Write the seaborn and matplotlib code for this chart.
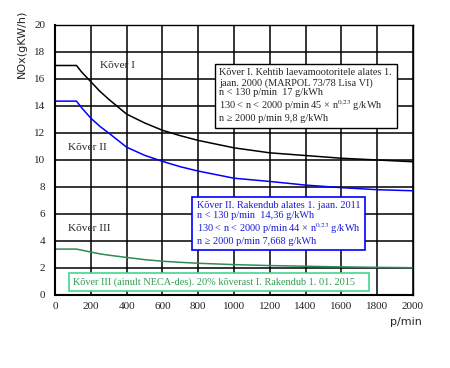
import pandas as pd
import matplotlib.pyplot as plt
import seaborn as sns

# values
rpm = [0, 120, 150, 200, 250, 300, 400, 500, 600, 700, 800, 1000, 1200, 1400, 1600, 1800, 2000]
tier1 = [17.0, 17.0, 16.5, 15.8, 15.1, 14.5, 13.4, 12.75, 12.2, 11.8, 11.45, 10.9, 10.53, 10.33, 10.13, 10.0, 9.87]
tier2 = [14.36, 14.36, 13.85, 13.1, 12.5, 12.0, 10.95, 10.35, 9.9, 9.5, 9.18, 8.65, 8.41, 8.14, 7.95, 7.8, 7.72]
tier3 = [3.4, 3.4, 3.32, 3.18, 3.05, 2.95, 2.78, 2.62, 2.5, 2.42, 2.35, 2.25, 2.18, 2.13, 2.08, 2.05, 2.02]

x_ticks = [0, 200, 400, 600, 800, 1000, 1200, 1400, 1600, 1800, 2000]
y_ticks = [0, 2, 4, 6, 8, 10, 12, 14, 16, 18, 20]

df = pd.DataFrame({'rpm': rpm, 'I': tier1, 'II': tier2, 'III': tier3})

sns.set_theme(style="white")
plt.rcParams['font.family'] = ['Liberation Serif', 'DejaVu Serif']
plt.rcParams['mathtext.fontset'] = 'stix'

fig = plt.figure(figsize=(4.5, 3.68), dpi=100)
ax = fig.add_axes([0.1222, 0.1984, 0.7956, 0.7337])

sns.lineplot(data=df, x='rpm', y='I', color='black', lw=1.1, ax=ax)
sns.lineplot(data=df, x='rpm', y='II', color='#0000ff', lw=1.1, ax=ax)
sns.lineplot(data=df, x='rpm', y='III', color='#2e8b57', lw=1.1, ax=ax)

ax.set_xlim(0, 2000)
ax.set_ylim(0, 20)
ax.set_xticks(x_ticks)
ax.set_yticks(y_ticks)
ax.grid(True, color='black', lw=1.1)
ax.set_axisbelow(True)
for s in ax.spines.values():
    s.set_color('black')
    s.set_linewidth(1.0)
ax.spines['bottom'].set_linewidth(1.5)
ax.spines['left'].set_linewidth(1.5)
ax.tick_params(axis='x', length=0, pad=5, labelsize=8, labelcolor='#222222')
ax.tick_params(axis='y', length=0, pad=7, labelsize=8, labelcolor='#222222')
ax.set_xlabel('')
ax.set_ylabel('')

ax.text(-0.092, 0.93, 'NOx(gKW/h)', transform=ax.transAxes, rotation=90,
        ha='center', va='center', fontsize=8, family='DejaVu Sans')
ax.text(0.98, -0.1, 'p/min', transform=ax.transAxes, ha='center', va='center',
        fontsize=8, family='DejaVu Sans')

ax.text(251, 17.0, 'Kõver I', fontsize=8.2, va='center')
ax.text(73, 10.96, 'Kõver II', fontsize=8.2, va='center')
ax.text(73, 4.94, 'Kõver III', fontsize=8.2, va='center')

box1 = ('Kõver I. Kehtib laevamootoritele alates 1.\n'
        'jaan. 2000 (MARPOL 73/78 Lisa VI)\n'
        'n < 130 p/min  17 g/kWh\n'
        '130 < n < 2000 p/min 45 × n$^{0{,}23}$ g/kWh\n'
        'n ≥ 2000 p/min 9,8 g/kWh')
ax.text(918, 16.8, box1, fontsize=7.4, va='top', ha='left', linespacing=1.1,
        bbox=dict(boxstyle='square,pad=0.45', fc='white', ec='black', lw=1.0))

box2 = ('Kõver II. Rakendub alates 1. jaan. 2011\n'
        'n < 130 p/min  14,36 g/kWh\n'
        '130 < n < 2000 p/min 44 × n$^{0{,}23}$ g/kWh\n'
        'n ≥ 2000 p/min 7,668 g/kWh')
ax.text(793, 6.94, box2, fontsize=7.4, va='top', ha='left', color='#1a1ad6',
        linespacing=1.1,
        bbox=dict(boxstyle='square,pad=0.45', fc='white', ec='#0000ff', lw=1.2))

ax.text(100, 0.96, 'Kõver III (ainult NECA-des). 20% kõverast I. Rakendub 1. 01. 2015    ',
        fontsize=7.4, va='center', ha='left', color='#2e9e50',
        bbox=dict(boxstyle='square,pad=0.4', fc='white', ec='#44d68f', lw=1.2))

fig.savefig('out.png', dpi=100)
